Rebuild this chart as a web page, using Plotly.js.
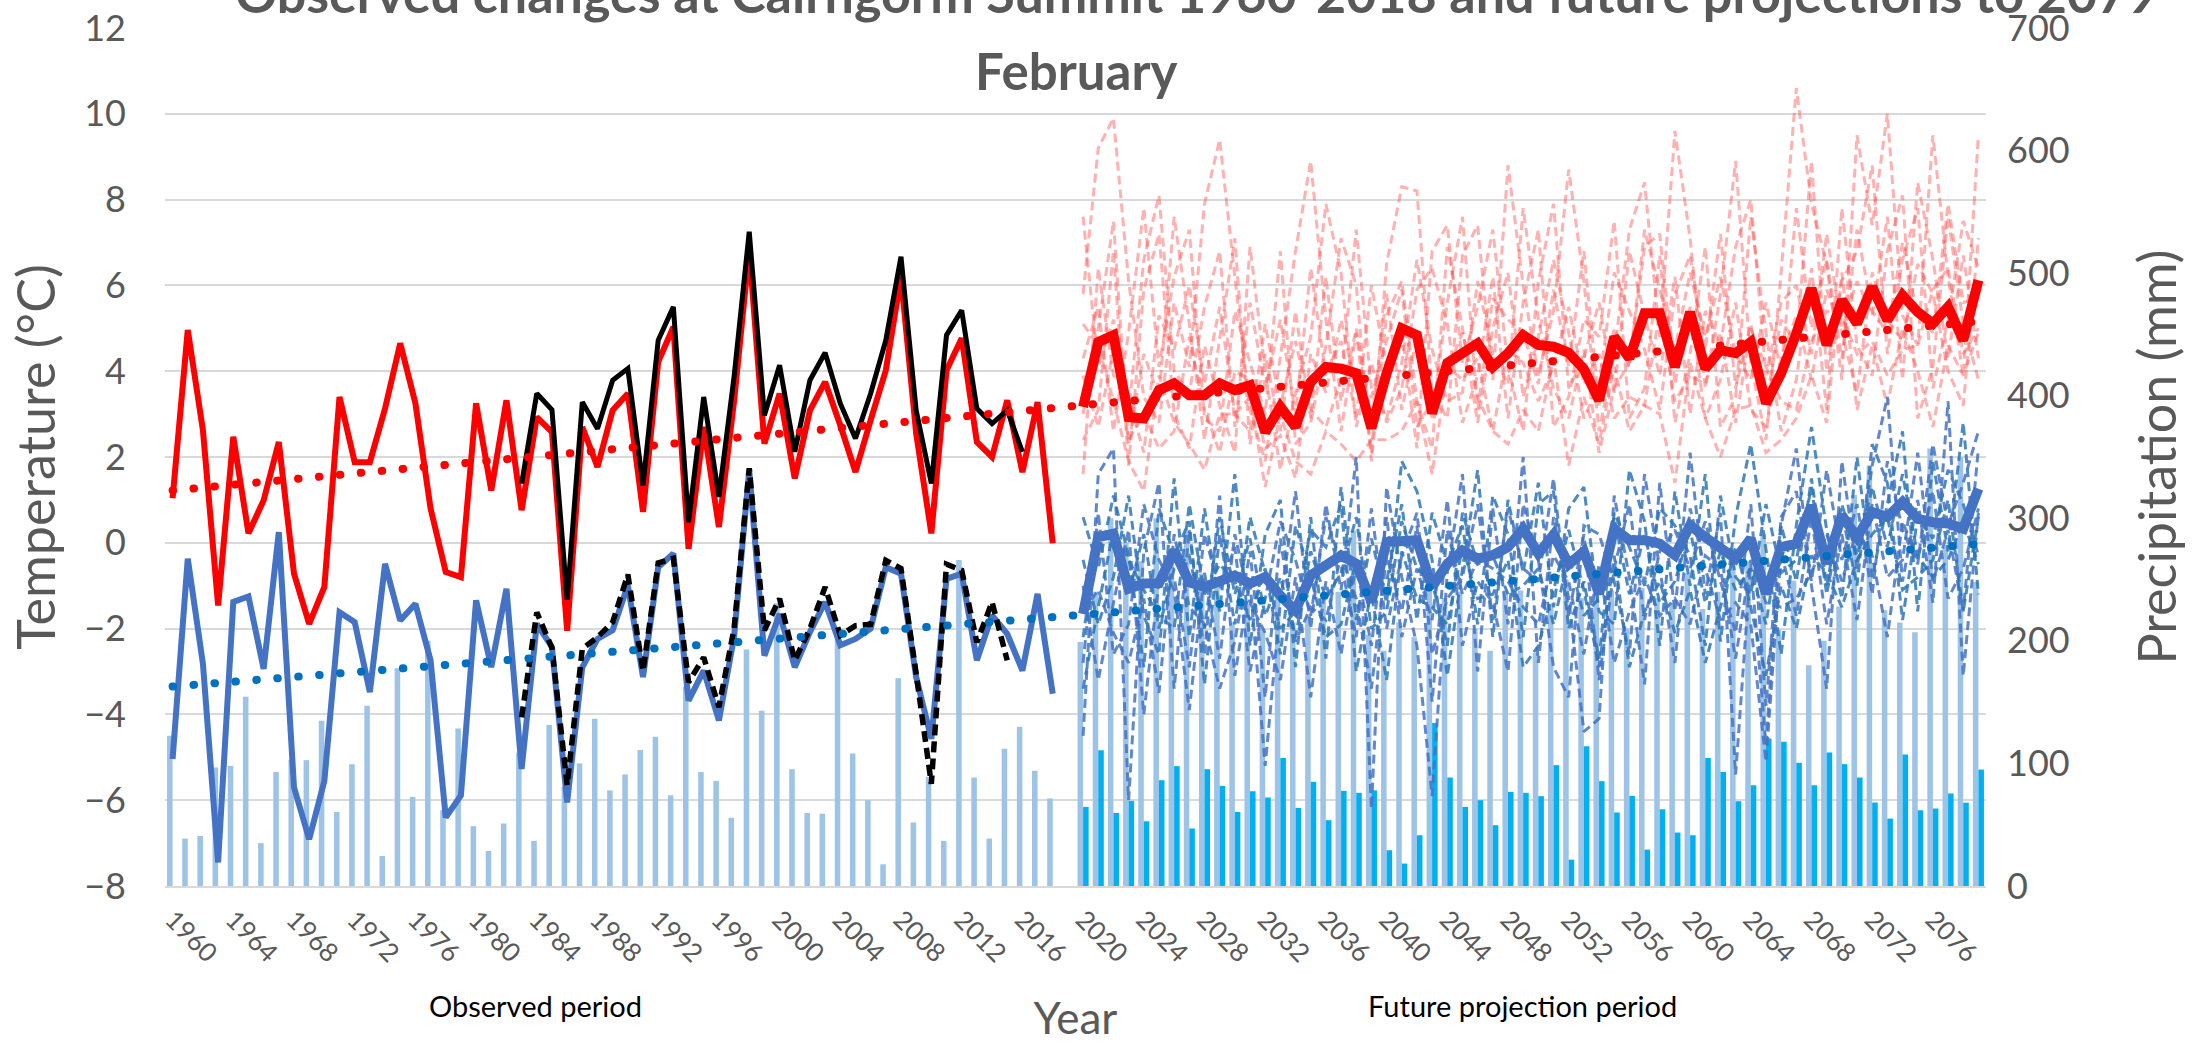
<!DOCTYPE html>
<html><head><meta charset="utf-8">
<script src="https://cdn.plot.ly/plotly-3.0.1.min.js"></script>
<style>
html,body{margin:0;padding:0;background:#fff;}
#chart{width:2195px;height:1043px;}
path.js-line[style*="0.5px"]{stroke-linecap:round;}
</style></head><body><div id="chart"></div>
<script>
function range(a,b){const r=[];for(let y=a;y<=b;y++)r.push(y);return r;}
// categories
const obsYears = range(1960,2018);
const blackYears = range(1983,2016);
const blackDashYears = range(1983,2015);
const futYears = range(2020,2079);
const trendYears = [1960, 2079];
const tickYears = range(0,29).map(i=>1960+4*i);

// observed temperatures (°C)
const obsMax = [1.04,4.96,2.62,-1.46,2.47,0.22,0.99,2.35,-0.72,-1.89, -1.03,3.40,1.88,1.88,3.13,4.65,3.25,0.80,-0.68,-0.80,
 3.25,1.22,3.32,0.76,2.93,2.58,-2.05,2.70,1.77,3.09, 3.48,0.72,4.22,5.03,-0.14,2.70,0.37,3.3,6.82,2.31,
 3.48,1.50,3.09,3.75,2.74,1.65,2.86,4.02,6.2,2.55, 0.22,4.02,4.77,2.35,2.0,3.32,1.65,3.28,-0.01];
const obsMin = [-5.04,-0.37,-2.82,-7.45,-1.38,-1.25,-2.94,0.25,-5.70,-6.91, -5.55,-1.62,-1.85,-3.48,-0.49,-1.81,-1.42,-2.74,-6.40,-5.89,
 -1.34,-2.90,-1.07,-5.27,-1.89,-2.43,-6.05,-2.90,-2.24,-2.04, -0.99,-3.13,-0.57,-0.25,-3.68,-2.98,-4.14,-2.2,1.69,-2.63,
 -1.66,-2.90,-2.08,-1.38,-2.39,-2.24,-2.0,-0.57,-0.72,-3.13, -4.57,-0.84,-0.72,-2.74,-1.69,-2.12,-2.98,-1.19,-3.52];
const blackMax = [1.38,3.48,3.1,-1.33,3.28,2.66,3.79,4.06,1.34,4.72, 5.5,0.48,3.40,1.07,3.87,7.25,2.97,4.14,2.12,3.79,
 4.43,3.25,2.43,3.48,4.72,6.67,3.09,1.38,4.84,5.42, 3.13,2.78,3.09,2.12];
const blackMin = [-4.07,-1.62,-2.45,-5.65,-2.47,-2.2,-1.85,-0.74,-2.99,-0.47, -0.36,-3.25,-2.67,-3.83,-2.0,1.74,-2.04,-1.3,-2.74,-2.0,
 -1.03,-2.16,-1.93,-1.9,-0.41,-0.6,-3.05,-5.62,-0.5,-0.64, -2.32,-1.38,-2.74];
// trend lines
const trendMax = [1.22, 5.16];
const trendMin = [-3.35, -0.03];

// observed precipitation (mm)
const obsPrecip = [122.5,38.7,40.8,96.7,98,154.4,35,93,103,102.7, 134.8,60.4,99.4,147,24.5,177.6,72.7,200,61.8,128.5,
 48.8,28.6,51,108.7,36.8,131.3,80.9,100,136.5,78, 91,111,121.7,74,162.5,93,85.8,55.6,193,143,
 230.7,95.3,59.6,59,202,108,70,17.7,169.4,51.8, 89,36.8,266,88.5,38.7,112,130,94,71.4];

// future projections
const futMax = [3.17,4.68,4.84,2.93,2.90,3.56,3.72,3.44,3.44,3.72, 3.56,3.67,2.58,3.17,2.70,3.75,4.10,4.06,3.95,2.67,
 3.95,5.0,4.84,3.02,4.19,4.42,4.65,4.10,4.42,4.84, 4.61,4.57,4.43,4.05,3.32,4.80,4.30,5.35,5.35,4.10,
 5.38,4.06,4.49,4.42,4.68,3.25,3.95,4.88,5.93,4.61, 5.66,5.11,5.97,5.19,5.77,5.38,5.11,5.5,4.72,6.12];
const futMin = [-1.66,0.13,0.21,-1.07,-0.95,-0.94,-0.18,-0.92,-1.03,-0.9, -0.76,-0.95,-0.8,-1.23,-1.58,-0.76,-0.53,-0.29,-0.49,-1.38,
 0.02,0.06,0.06,-1.03,-0.49,-0.18,-0.37,-0.29,-0.1,0.33, -0.25,0.19,-0.5,-0.2,-1.19,0.33,0.06,0.06,-0.02,-0.29,
 0.41,0.13,-0.1,-0.37,0.1,-1.19,-0.1,-0.02,0.87,-0.49, 0.64,0.13,0.72,0.6,0.95,0.56,0.48,0.45,0.33,1.26];
const memMax1 = [5.8,9.2,9.9,6.1,3.4,2.8,5.6,4.1,7.9,9.4, 6.2,3.1,1.9,4.4,6.8,8.9,5.2,2.6,4.9,2.1, 6.5,8.3,8.2,3.5,2.9,6.7,7.4,3.8,8.8,6.0,
 3.9,5.4,8.7,6.1,2.6,4.4,7.3,8.4,4.8,9.6, 7.1,3.6,5.8,8.9,4.2,2.4,6.3,10.6,7.9,6.5, 3.8,9.5,7.4,10.0,5.3,4.6,9.5,6.2,3.9,9.5];
const memMax2 = [2.4,3.1,6.8,1.8,5.9,7.2,3.0,2.2,4.6,3.2, 2.1,6.9,4.0,1.7,3.5,4.8,7.9,6.3,2.7,4.2, 2.8,3.6,5.9,6.4,5.1,2.8,3.9,6.2,2.9,5.6,
 7.3,2.7,3.4,5.2,4.8,7.5,2.9,3.6,6.7,2.8, 4.4,6.9,2.7,3.4,7.6,4.9,2.6,3.8,6.4,3.1, 7.8,4.6,3.9,6.8,8.1,2.9,4.1,7.6,5.1,3.8];
const memMax3 = [4.3,5.5,2.6,4.9,7.8,4.1,6.2,7.3,2.9,2.6, 5.4,4.2,3.0,6.8,2.3,2.8,4.6,7.1,6.0,1.9, 5.3,6.1,3.3,2.2,6.9,5.0,2.8,5.0,6.3,3.4,
 4.8,6.6,4.9,2.9,3.7,6.3,5.4,4.5,3.1,5.8, 6.7,4.5,7.2,3.6,5.1,3.3,5.2,4.6,8.9,4.0, 6.1,6.8,8.8,4.4,6.6,7.8,3.6,5.2,7.5,6.4];
const memMax4 = [1.6,6.4,3.9,3.4,2.1,5.3,4.5,6.0,3.7,5.5, 3.0,2.6,5.1,3.2,4.7,3.1,2.7,3.8,7.3,3.6, 2.9,4.2,6.6,4.5,3.3,3.5,6.1,4.4,3.7,7.8,
 5.2,3.6,2.9,4.5,2.1,3.6,4.2,6.9,7.2,3.7, 5.5,2.9,3.8,5.6,3.1,2.7,4.3,5.3,3.8,5.9, 4.9,3.5,6.3,5.2,4.7,6.5,5.8,4.0,3.2,7.1];
const memMax5 = [3.9,2.7,4.5,2.4,3.0,2.2,2.6,4.8,3.1,2.1, 4.0,3.8,2.2,2.5,1.5,4.4,3.5,5.2,3.6,3.4, 4.7,5.9,2.7,3.3,4.0,4.9,3.4,2.6,4.5,4.2,
 3.3,4.1,5.5,3.7,4.4,2.9,3.4,3.2,5.4,3.3, 3.9,3.7,4.9,2.8,5.0,4.1,3.3,3.1,4.7,5.4, 5.3,4.4,4.7,3.9,4.5,4.6,5.9,6.4,4.4,5.0];
const memMax6 = [5.1,4.6,3.3,1.9,1.2,3.9,2.8,2.3,1.7,3.0, 3.0,3.4,1.3,3.0,1.9,1.6,2.6,2.3,1.9,2.4, 2.4,2.6,3.3,1.6,4.1,3.8,4.3,2.6,2.3,3.1,
 2.6,4.3,1.8,3.4,2.3,4.1,2.6,3.2,3.0,1.4, 4.2,2.9,2.0,3.1,3.2,2.1,2.4,2.9,3.9,2.8, 6.3,3.1,4.6,3.2,5.0,4.0,2.7,4.6,3.9,4.9];
const memMax7 = [7.6,4.1,5.2,3.0,6.6,8.1,4.0,3.5,5.5,6.8, 2.7,5.6,3.6,5.2,3.0,6.4,3.9,4.7,2.9,6.0, 4.1,4.9,2.2,6.8,7.4,4.2,5.5,7.3,4.1,2.6,
 6.1,7.9,3.6,4.3,5.6,3.5,6.8,5.3,3.9,6.2, 3.0,5.4,4.6,6.9,8.0,3.9,5.6,6.0,4.4,7.2, 5.0,6.1,5.3,7.6,3.8,8.4,6.6,4.3,6.7,4.3];
const memMax8 = [3.0,5.0,7.5,2.3,4.4,3.4,7.6,5.1,2.4,4.8, 7.1,2.3,4.4,2.6,5.4,2.9,6.2,3.3,5.0,2.8, 5.8,3.1,4.8,2.9,5.6,7.6,3.1,5.7,5.2,4.9,
 3.7,5.9,4.1,6.8,3.2,5.0,4.1,7.3,5.9,4.5, 6.3,4.8,6.2,4.4,3.8,5.6,4.0,7.8,5.0,6.6, 4.3,7.3,5.4,4.9,7.0,5.3,4.9,7.9,5.6,5.7];
const memMin1 = [-4.5,1.6,2.2,-6.0,-0.2,1.4,-3.4,0.3,-2.6,1.1, -3.1,-0.9,-5.2,-1.4,1.2,-2.0,0.9,-1.1,2.0,-6.2, 1.3,-0.8,-2.4,-5.9,-0.7,1.6,-3.0,0.8,-1.9,2.0,
 -2.8,0.6,-1.3,-4.4,-4.1,1.1,-0.8,-3.3,1.4,-1.6, 2.1,-1.2,0.7,-5.4,-0.5,-4.7,0.4,2.2,-1.0,-3.4, 1.9,-0.6,1.8,3.4,-0.9,1.0,-1.4,3.3,-3.1,0.7];
const memMin2 = [-0.4,-1.9,-0.8,1.1,-1.7,-2.6,1.5,-2.2,0.8,-1.6, 1.6,-2.4,0.2,1.0,-2.9,0.6,-2.7,1.3,-1.8,0.1, -1.4,1.9,1.2,-0.4,-3.1,-0.6,1.7,-2.2,1.0,-0.7,
 1.4,-1.5,0.8,1.3,-1.6,-1.9,1.7,0.5,-2.4,1.2, -1.0,1.6,-2.3,0.6,2.3,-0.2,-2.6,0.4,2.7,0.3, -1.3,2.0,-0.8,0.9,2.6,-1.6,1.9,-0.2,2.8,-1.2];
const memMin3 = [-2.8,0.7,-2.6,-1.9,0.9,-0.4,-1.1,-3.9,-0.7,-2.7, 0.2,-1.4,-2.1,-3.2,-0.8,-3.6,-0.9,-2.6,-0.5,-2.4, 0.6,-2.2,-0.6,-1.8,1.0,-2.4,-0.9,-1.4,-3.0,0.9,
 -0.4,-2.9,-3.6,0.4,0.2,-0.9,-2.6,1.6,-0.6,-2.8, 0.8,-0.6,-1.8,-1.4,-1.9,-5.1,-0.2,-1.7,0.6,-1.9, 0.2,-1.8,0.9,-0.8,-0.4,2.1,-0.9,0.3,-1.6,2.2];
const memMin4 = [0.6,-0.6,1.1,-0.3,-2.9,0.8,-0.3,0.5,-3.3,0.2, -1.9,0.6,-0.7,-2.0,-1.6,0.3,-0.1,0.9,-3.0,-1.1, -0.9,0.9,-1.8,0.7,-0.5,0.4,-1.9,1.1,0.2,-2.2,
 0.9,1.2,-2.0,-0.9,-2.7,0.7,-0.1,-1.0,0.8,0.4, -0.3,-2.4,1.1,-0.8,-1.2,0.9,-0.7,-0.4,1.3,-1.2, 0.7,-1.0,2.3,1.4,-1.8,0.6,0.1,1.7,0.9,-0.3];
const memMin5 = [-1.6,-1.1,-2.1,-2.8,-1.3,-3.5,0.2,-1.5,-1.9,-3.4, -2.3,-0.2,-3.6,0.1,-2.3,-1.5,-1.8,-0.3,-1.3,-3.4, -0.3,-1.6,0.4,-3.7,0.3,-1.2,-0.4,-0.6,-0.9,-1.5,
 -1.9,-0.3,-0.9,-2.6,-0.5,-2.8,-1.6,-0.8,-1.7,-1.3, -1.9,-0.3,-0.6,-2.7,-0.4,-1.4,-1.5,-1.3,-0.7,0.2, -0.9,0.3,-0.3,-2.2,0.5,-0.4,1.2,-1.3,-0.6,0.8];
const memMin6 = [-3.4,-1.5,0.3,-0.4,-1.1,-1.7,-2.0,0.9,-1.2,-0.5, -0.9,-1.8,-0.6,-2.6,0.4,-0.8,-2.2,-1.9,-0.4,-1.2, -3.2,-0.2,-1.3,-1.5,-1.9,-0.1,-1.3,-1.2,-0.4,-2.9,
 -2.4,-1.1,0.3,-1.1,-2.9,-0.3,-2.9,-1.6,-0.9,-2.1, -1.1,-2.8,-1.5,-0.1,-1.5,-3.1,-1.0,-2.0,-0.3,-0.7, -1.5,-0.4,0.2,0.6,-1.1,-0.8,-0.4,1.0,-1.6,0.6];
const memMin7 = [-1.0,-3.2,-1.4,0.3,-4.0,-0.9,-0.8,-2.9,0.2,-1.1, -0.1,-3.0,-1.3,0.5,-0.4,-1.7,0.6,-0.5,-2.2,0.8, -2.0,-0.3,0.7,-2.6,-1.3,-0.8,0.9,-1.8,0.8,-0.6,
 -0.9,1.5,-1.7,0.2,-3.2,-0.6,0.9,-1.8,-0.2,0.3, -0.6,0.5,-0.9,-2.1,0.9,-3.8,0.6,1.2,-0.9,1.7, -0.4,0.9,-1.2,1.9,0.3,-0.5,2.3,0.4,1.4,2.6];
const memMin8 = [-2.2,0.3,-0.1,-1.2,0.2,-2.0,-0.6,-0.3,-2.0,0.6, -1.2,0.1,-1.7,-0.8,-2.2,-0.2,-1.3,-0.7,0.6,-2.0, -1.6,0.5,-0.6,-0.9,-2.4,0.7,-0.5,-0.3,-1.2,-1.0,
 -0.6,-1.9,-0.3,-1.7,-1.3,0.6,-1.2,0.2,-1.4,-0.9, 0.3,-1.4,-0.2,-1.1,-0.6,-1.9,0.4,-0.9,1.5,-1.0, 0.9,-0.3,1.3,-0.1,1.6,-0.3,-0.8,-0.4,0.5,-0.5];
const futPrecipA = [199,240,300,280,265,300,270,290,255,245, 215,230,210,240,215,220,235,240,290,205,
 192,215,203,250,235,240,210,192,241,241, 190,230,250,235,245,241,210,243,235,231,
 255,226,240,275,265,287,209,249,180,200, 228,319,343,225,215,207,357,277,350,248];
const futPrecipB = [64.5,110.8,59.6,69.4,52.8,86.3,97.8,46.9,95.3,81.7, 60.4,77.3,72.2,104.5,63.7,85,53.7,77.6,76,78,
 29.2,18.3,41.4,133,88.5,64.5,70,49.6,76.8,76, 73.3,98.6,21.5,114,85.5,60,73.5,29.7,62.6,43.6,
 41.4,104.5,93.1,69.2,82.2,120.4,117.6,100.5,82.2,109, 99.4,88.5,68.1,55,107.3,61.8,63.2,75.5,68,95];

const memMaxList = [memMax1,memMax2,memMax3,memMax4,memMax5,memMax6,memMax7,memMax8];
const memMinList = [memMin1,memMin2,memMin3,memMin4,memMin5,memMin6,memMin7,memMin8];

const FONT = 'Lato, "Open Sans", sans-serif';
const GREY = '#595959';
const traces = [];
traces.push({type:'bar', x:obsYears, y:obsPrecip, yaxis:'y', offsetgroup:'a', marker:{color:'#9DC3E6'}, name:'Observed precipitation'});
traces.push({type:'bar', x:futYears, y:futPrecipA, yaxis:'y', offsetgroup:'a', marker:{color:'#9DC3E6'}, name:'Projected precipitation'});
traces.push({type:'bar', x:futYears, y:futPrecipB, yaxis:'y', offsetgroup:'b', marker:{color:'#00B0F0'}, name:'Projected snowfall'});
memMaxList.forEach((m,i)=>traces.push({type:'scatter', mode:'lines', x:futYears, y:m, yaxis:'y2',
  line:{color:'rgba(255,70,70,0.42)', width:3, dash:'9px,5px'}, name:'Max member '+(i+1)}));
memMinList.forEach((m,i)=>traces.push({type:'scatter', mode:'lines', x:futYears, y:m, yaxis:'y2',
  line:{color: i%2 ? 'rgba(46,117,182,0.85)' : 'rgba(68,114,196,0.85)', width:3, dash:'9px,5px'}, name:'Min member '+(i+1)}));
traces.push({type:'scatter', mode:'lines', x:obsYears, y:obsMax, yaxis:'y2', line:{color:'#FF0000', width:6}, name:'Observed max'});
traces.push({type:'scatter', mode:'lines', x:blackYears, y:blackMax, yaxis:'y2', line:{color:'#000000', width:5}, name:'Station max'});
traces.push({type:'scatter', mode:'lines', x:obsYears, y:obsMin, yaxis:'y2', line:{color:'#4472C4', width:6}, name:'Observed min'});
traces.push({type:'scatter', mode:'lines', x:blackDashYears, y:blackMin, yaxis:'y2', line:{color:'#000000', width:5.5, dash:'11px,6px'}, name:'Station min'});
traces.push({type:'scatter', mode:'lines', x:futYears, y:futMax, yaxis:'y2', line:{color:'#FF0000', width:10}, name:'Projected max'});
traces.push({type:'scatter', mode:'lines', x:futYears, y:futMin, yaxis:'y2', line:{color:'#4472C4', width:10}, name:'Projected min'});
traces.push({type:'scatter', mode:'lines', x:trendYears, y:trendMax, yaxis:'y2', line:{color:'#FF0000', width:8, dash:'0.5px,20.5px'}, name:'Max trend'});
traces.push({type:'scatter', mode:'lines', x:trendYears, y:trendMin, yaxis:'y2', line:{color:'#0070C0', width:8, dash:'0.5px,20.5px'}, name:'Min trend'});

const layout = {
  width:2195, height:1043,
  margin:{l:165, r:209, t:28, b:157},
  paper_bgcolor:'#ffffff', plot_bgcolor:'rgba(0,0,0,0)',
  showlegend:false,
  barmode:'group', bargap:0.27, bargroupgap:0,
  font:{family:FONT, color:GREY},
  title:{text:'<b>Observed changes at Cairngorm Summit 1960-2018 and future projections to 2079</b>',
    font:{family:FONT, size:52, color:GREY}, xref:'container', x:0.545, xanchor:'center', yref:'container', y:0.9875, yanchor:'bottom'},
  xaxis:{range:[1959.5,2079.5], tickmode:'array', tickvals:tickYears, ticktext:tickYears.map(String), tickangle:45,
    tickfont:{family:FONT, size:26, color:GREY}, ticklabelstandoff:6, showgrid:false, zeroline:false, showline:true, linecolor:'#D9D9D9', linewidth:2, ticks:'',
    title:{text:'Year', font:{family:FONT, size:44, color:GREY}, standoff:46}},
  yaxis:{side:'right', range:[0,700], dtick:100, showgrid:false, zeroline:false, ticks:'', ticklabelstandoff:20,
    tickfont:{family:FONT, size:36, color:GREY},
    title:{text:'Precipitation (mm)', font:{family:FONT, size:52, color:GREY}, standoff:70}},
  yaxis2:{overlaying:'y', side:'left', range:[-8,12], dtick:2, showgrid:true, gridcolor:'#D9D9D9', gridwidth:2, zeroline:false, ticks:'', ticklabelstandoff:38,
    tickfont:{family:FONT, size:36, color:GREY},
    title:{text:'Temperature (°C)', font:{family:FONT, size:52, color:GREY}, standoff:12}},
  annotations:[
    {text:'<b>February</b>', xref:'paper', yref:'paper', x:0.5, y:0.95, xanchor:'center', yanchor:'middle', showarrow:false, font:{family:FONT, size:51, color:GREY}},
    {text:'Observed period', xref:'paper', yref:'paper', x:0.2032, y:-0.139, xanchor:'center', yanchor:'middle', showarrow:false, font:{family:FONT, size:29, color:'#000000'}},
    {text:'Future projection period', xref:'paper', yref:'paper', x:0.7452, y:-0.139, xanchor:'center', yanchor:'middle', showarrow:false, font:{family:FONT, size:29, color:'#000000'}}
  ]
};
Plotly.newPlot('chart', traces, layout, {displayModeBar:false, staticPlot:true});
</script></body></html>
